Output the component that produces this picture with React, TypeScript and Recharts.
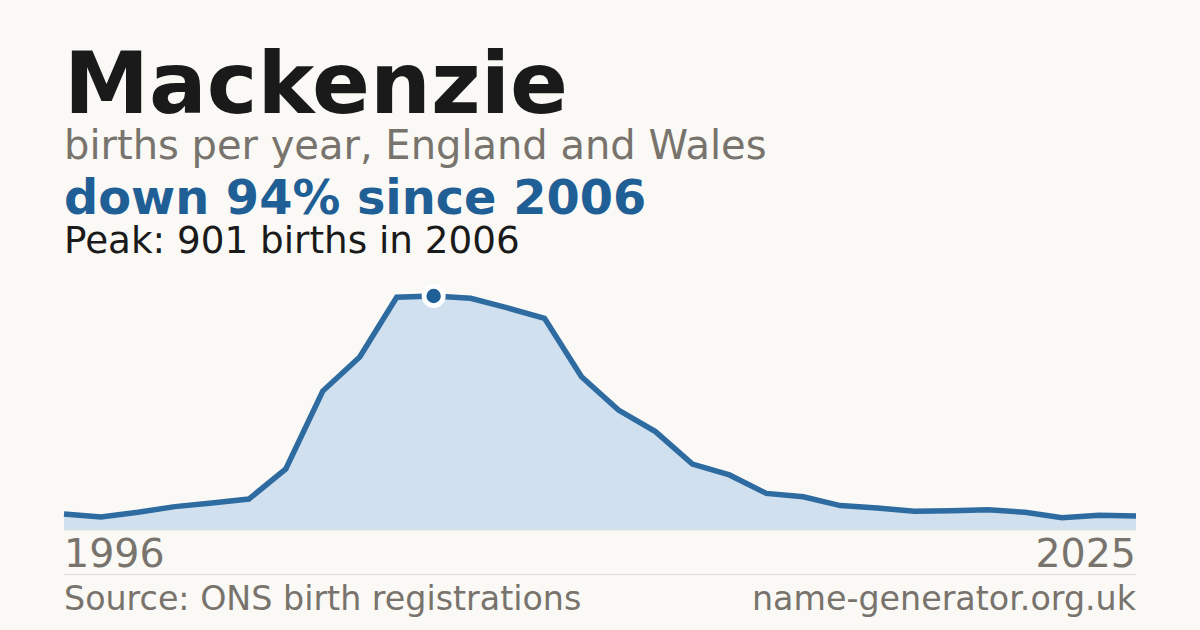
import React from "react";
import { ComposedChart, Area, XAxis, YAxis, ReferenceDot } from "recharts";

const years = [1996, 1997, 1998, 1999, 2000, 2001, 2002, 2003, 2004, 2005, 2006, 2007, 2008, 2009, 2010, 2011, 2012, 2013, 2014, 2015, 2016, 2017, 2018, 2019, 2020, 2021, 2022, 2023, 2024, 2025];
const births = [62, 50, 68, 90, 104, 119, 235, 535, 666, 896, 901, 892, 855, 815, 590, 462, 379, 254, 212, 141, 128, 94, 85, 72, 74, 78, 68, 47, 57, 54];
const tickYears = [1996, 2025];

const title = "Mackenzie";
const subtitle = "births per year, England and Wales";
const headline = "down 94% since 2006";
const peakText = "Peak: 901 births in 2006";
const source = "Source: ONS birth registrations";
const site = "name-generator.org.uk";

const peakYear = 2006;
const peakValue = 901;

const data = years.map((y, i) => ({ year: y, births: births[i] }));

const FONT = "'DejaVu Sans', sans-serif";
const BLUE = "#1f5f96";
const GRAY = "#78736c";

const YearTick = (props: any) => {
  const { x, y, payload } = props;
  const anchor = payload.value === tickYears[0] ? "start" : "end";
  return (
    <text x={x} y={y + 29} textAnchor={anchor} fill={GRAY} fontSize={39.5} fontFamily={FONT}>
      {payload.value}
    </text>
  );
};

const PeakShape = (props: any) => {
  const { cx, cy } = props;
  return (
    <g>
      <circle cx={cx} cy={cy} r={12} fill="#ffffff" />
      <circle cx={cx} cy={cy} r={7.2} fill={BLUE} />
    </g>
  );
};

export default function App() {
  return (
    <div style={{ position: "absolute", left: 0, top: 0, width: 1200, height: 630, background: "#faf9f5", overflow: "hidden" }}>
      <svg width={1200} height={630} style={{ position: "absolute", left: 0, top: 0 }}>
        <text x={64} y={113} fontSize={85.5} fontWeight="bold" fill="#1a1a1a" fontFamily={FONT}>{title}</text>
        <text x={64} y={159} fontSize={40} fill={GRAY} fontFamily={FONT}>{subtitle}</text>
        <text x={64} y={214} fontSize={47.8} fontWeight="bold" fill={BLUE} fontFamily={FONT}>{headline}</text>
        <text x={64} y={253} fontSize={37.3} fill="#1a1a1a" fontFamily={FONT}>{peakText}</text>
        <line x1={64} x2={1136} y1={574.5} y2={574.5} stroke="#deddd8" strokeWidth={1} />
        <text x={64} y={610} fontSize={33.3} fill={GRAY} fontFamily={FONT}>{source}</text>
        <text x={1136} y={610} fontSize={33.3} fill={GRAY} fontFamily={FONT} textAnchor="end">{site}</text>
      </svg>
      <div style={{ position: "absolute", left: 0, top: 0 }}>
        <ComposedChart width={1200} height={630} data={data} margin={{ top: 296, right: 64, bottom: 60, left: 64 }}>
          <XAxis
            dataKey="year"
            type="number"
            domain={[1996, 2025]}
            ticks={tickYears}
            tick={<YearTick />}
            tickLine={false}
            axisLine={{ stroke: "#deddd8", strokeWidth: 1 }}
            height={40}
            interval={0}
          />
          <YAxis hide domain={[0, "dataMax"]} />
          <Area
            type="linear"
            dataKey="births"
            stroke="#2d6ba1"
            strokeWidth={5.5}
            fill="#d0e0ef"
            fillOpacity={1}
            isAnimationActive={false}
            dot={false}
            activeDot={false}
          />
          <ReferenceDot x={peakYear} y={peakValue} r={12} shape={<PeakShape />} />
        </ComposedChart>
      </div>
    </div>
  );
}
